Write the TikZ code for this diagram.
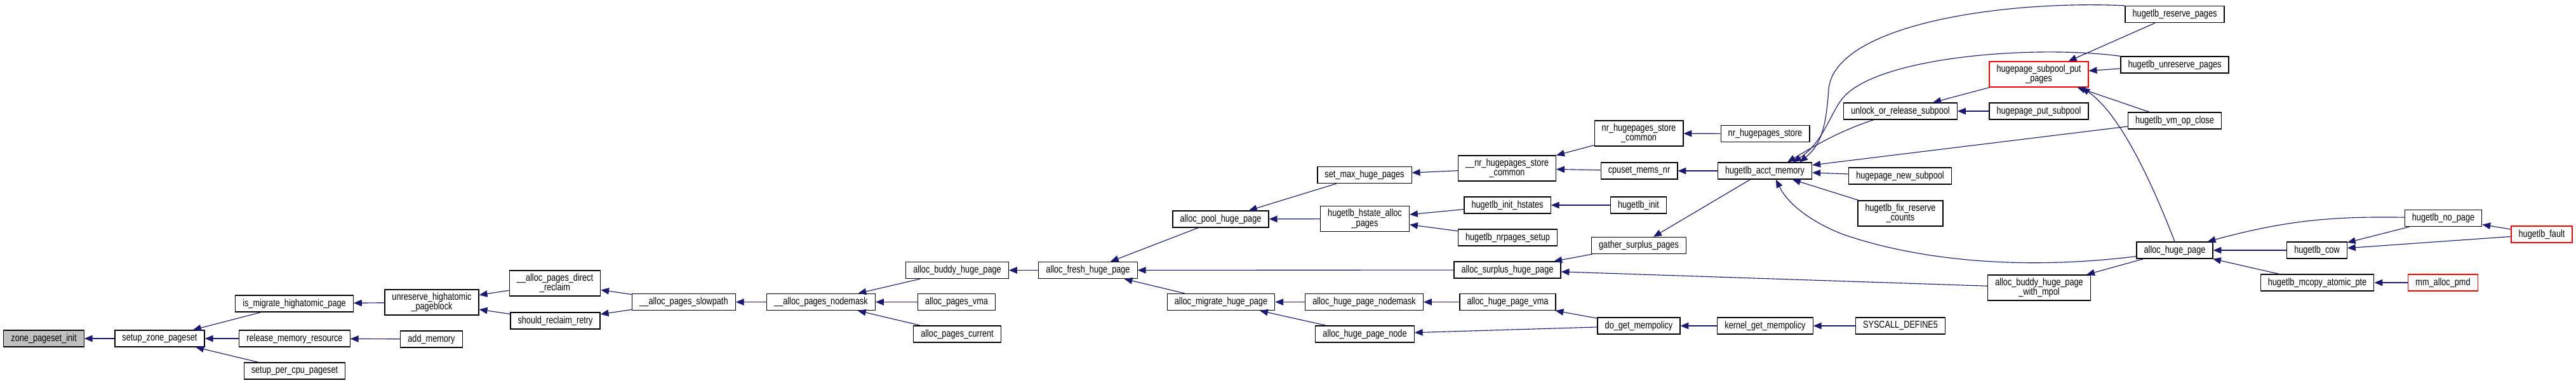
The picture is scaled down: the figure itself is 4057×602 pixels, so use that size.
\documentclass[tikz,border=0pt]{standalone}
\usepackage{fontspec}
\setmainfont{Liberation Sans}[FakeStretch=0.8]
\usetikzlibrary{arrows.meta}
\definecolor{dxblue}{HTML}{191970}
\definecolor{dxgrey}{HTML}{BFBFBF}

\begin{document}
\begin{tikzpicture}[
  x=0.25mm, y=-0.25mm,
  fn/.style={
    draw=black, fill=white, line width=0.9pt,
    font=\fontsize{11.3}{11}\selectfont, align=center,
    inner xsep=2.9mm, inner ysep=0pt, minimum height=6.5mm
  },
  fn2/.style={fn, minimum height=10mm},
  root/.style={fill=dxgrey},
  cut/.style={draw=red},
  call/.style={draw=dxblue, line width=0.8pt,
    -{Triangle[length=3.2mm, width=2.6mm]}},
  every edge/.style={call}
]
  \useasboundingbox (0,0) rectangle (4057,602);

  % functions, one column per rank
  \node[fn, root] (zoneinit) at (69,533) {zone\_pageset\_init};
  \node[fn] (setupzone) at (251.5,533) {setup\_zone\_pageset};
  \node[fn] (ismigrate) at (463.5,478) {is\_migrate\_highatomic\_page};
  \node[fn] (releasemem) at (464,533) {release\_memory\_resource};
  \node[fn] (setuppcp) at (464,584) {setup\_per\_cpu\_pageset};
  \node[fn2] (unreserve) at (680,476) {unreserve\_highatomic\\\_pageblock};
  \node[fn] (addmem) at (679.5,534) {add\_memory};
  \node[fn2] (directreclaim) at (874,446) {\_\_alloc\_pages\_direct\\\_reclaim};
  \node[fn] (reclaimretry) at (874.5,505) {should\_reclaim\_retry};
  \node[fn] (slowpath) at (1077,475.5) {\_\_alloc\_pages\_slowpath};
  \node[fn] (nodemask) at (1293,475.5) {\_\_alloc\_pages\_nodemask};
  \node[fn] (buddy) at (1507.5,425.5) {alloc\_buddy\_huge\_page};
  \node[fn] (pagesvma) at (1506.5,475.5) {alloc\_pages\_vma};
  \node[fn] (pagescurrent) at (1507.5,526) {alloc\_pages\_current};
  \node[fn] (fresh) at (1713.5,425.5) {alloc\_fresh\_huge\_page};
  \node[fn] (pool) at (1922.5,345) {alloc\_pool\_huge\_page};
  \node[fn] (migrate) at (1923,475.5) {alloc\_migrate\_huge\_page};
  \node[fn] (setmax) at (2149,275.5) {set\_max\_huge\_pages};
  \node[fn2] (hstatealloc) at (2149.5,344.5) {hugetlb\_hstate\_alloc\\\_pages};
  \node[fn] (hpnodemask) at (2148.5,475.5) {alloc\_huge\_page\_nodemask};
  \node[fn] (hpnode) at (2149.5,526) {alloc\_huge\_page\_node};
  \node[fn2] (nrstoreinner) at (2373.5,265) {\_\_nr\_hugepages\_store\\\_common};
  \node[fn] (inithstates) at (2374,323) {hugetlb\_init\_hstates};
  \node[fn] (nrpagessetup) at (2374.5,374) {hugetlb\_nrpages\_setup};
  \node[fn] (surplus) at (2374,425) {alloc\_surplus\_huge\_page};
  \node[fn] (hpvma) at (2374.5,475.5) {alloc\_huge\_page\_vma};
  \node[fn2] (nrstorecommon) at (2581,210) {nr\_hugepages\_store\\\_common};
  \node[fn] (cpusetmems) at (2581.5,269) {cpuset\_mems\_nr};
  \node[fn] (hugetlbinit) at (2580.5,323) {hugetlb\_init};
  \node[fn] (gather) at (2581,386.5) {gather\_surplus\_pages};
  \node[fn] (getmempolicy) at (2581,513) {do\_get\_mempolicy};
  \node[fn] (nrstore) at (2780,210.5) {nr\_hugepages\_store};
  \node[fn] (acct) at (2779.5,269) {hugetlb\_acct\_memory};
  \node[fn] (kernelmempolicy) at (2780,513) {kernel\_get\_mempolicy};
  \node[fn] (unlocksubpool) at (2993,175) {unlock\_or\_release\_subpool};
  \node[fn] (newsubpool) at (2992.5,277) {hugepage\_new\_subpool};
  \node[fn2] (fixcounts) at (2993,336) {hugetlb\_fix\_reserve\\\_counts};
  \node[fn] (syscall) at (2993,513) {SYSCALL\_DEFINE5};
  \node[fn2, cut] (subpoolput) at (3211,117) {hugepage\_subpool\_put\\\_pages};
  \node[fn] (putsubpool) at (3211,175) {hugepage\_put\_subpool};
  \node[fn2] (buddympol) at (3211.5,453) {alloc\_buddy\_huge\_page\\\_with\_mpol};
  \node[fn] (reservepages) at (3425,22.5) {hugetlb\_reserve\_pages};
  \node[fn] (unreservepages) at (3425,102) {hugetlb\_unreserve\_pages};
  \node[fn] (vmclose) at (3425,190) {hugetlb\_vm\_op\_close};
  \node[fn] (allochuge) at (3425,394) {alloc\_huge\_page};
  \node[fn] (cow) at (3649,394) {hugetlb\_cow};
  \node[fn] (mcopy) at (3649.5,445) {hugetlb\_mcopy\_atomic\_pte};
  \node[fn] (nopage) at (3848,343.5) {hugetlb\_no\_page};
  \node[fn, cut] (mmpmd) at (3847.5,445) {mm\_alloc\_pmd};
  \node[fn, cut] (fault) at (4003,369) {hugetlb\_fault};

  % calls, caller -> callee
  \draw (setupzone) edge (zoneinit);
  \draw (ismigrate) edge (setupzone);
  \draw (releasemem) edge (setupzone);
  \draw (setuppcp) edge (setupzone);
  \draw (unreserve) edge (ismigrate);
  \draw (addmem) edge (releasemem);
  \draw (directreclaim) edge (unreserve);
  \draw (reclaimretry) edge (unreserve);
  \draw (slowpath) edge (directreclaim) edge (reclaimretry);
  \draw (nodemask) edge (slowpath);
  \draw (buddy) edge (nodemask);
  \draw (pagesvma) edge (nodemask);
  \draw (pagescurrent) edge (nodemask);
  \draw (fresh) edge (buddy);
  \draw (pool) edge (fresh);
  \draw (surplus) edge (fresh);
  \draw (migrate) edge (fresh);
  \draw (setmax) edge (pool);
  \draw (hstatealloc) edge (pool);
  \draw (hpnodemask) edge (migrate);
  \draw (hpnode) edge (migrate);
  \draw (nrstoreinner) edge (setmax);
  \draw (inithstates) edge (hstatealloc);
  \draw (nrpagessetup) edge (hstatealloc);
  \draw (gather) edge (surplus);
  \draw (buddympol) edge (surplus);
  \draw (hpvma) edge (hpnodemask);
  \draw (getmempolicy) edge (hpvma) edge (hpnode);
  \draw (nrstorecommon) edge (nrstoreinner);
  \draw (cpusetmems) edge (nrstoreinner);
  \draw (hugetlbinit) edge (inithstates);
  \draw (nrstore) edge (nrstorecommon);
  \draw (acct) edge (cpusetmems) edge (gather);
  \draw (kernelmempolicy) edge (getmempolicy);
  \draw (syscall) edge (kernelmempolicy);
  \draw (vmclose) edge (acct) edge (subpoolput);
  \draw (newsubpool) edge (acct);
  \draw (fixcounts) edge (acct);
  \draw (subpoolput) edge (unlocksubpool);
  \draw (putsubpool) edge (unlocksubpool);
  \draw (reservepages) edge (subpoolput);
  \draw (unreservepages) edge (subpoolput);
  \draw (allochuge) edge (buddympol);
  \draw (cow) edge (allochuge);
  \draw (mcopy) edge (allochuge);
  \draw (nopage) edge[bend right=8] (allochuge) edge (cow);
  \draw (fault) edge (nopage) edge (cow);
  \draw (mmpmd) edge (mcopy);

  % long curved calls into hugetlb_acct_memory
  \draw[call] (reservepages.north west) .. controls (3150,0) and (2890,40)
    .. (2880,140) .. controls (2876,200) and (2868,228) .. (acct.14);
  \draw[call] (unreservepages.north west) .. controls (3200,70) and (2950,90)
    .. (2900,157) .. controls (2880,185) and (2870,225) .. (acct.17);
  \draw[call] (unlocksubpool.-162) .. controls (2900,205) and (2860,228)
    .. (acct.21);
  \draw[call] (allochuge.-171) .. controls (3150,430) and (2990,400)
    .. (2900,368) .. controls (2850,348) and (2815,320) .. (acct.-38);
  \draw[call] (allochuge.north) .. controls (3390,290) and (3340,180)
    .. (subpoolput.-17);
\end{tikzpicture}
\end{document}
